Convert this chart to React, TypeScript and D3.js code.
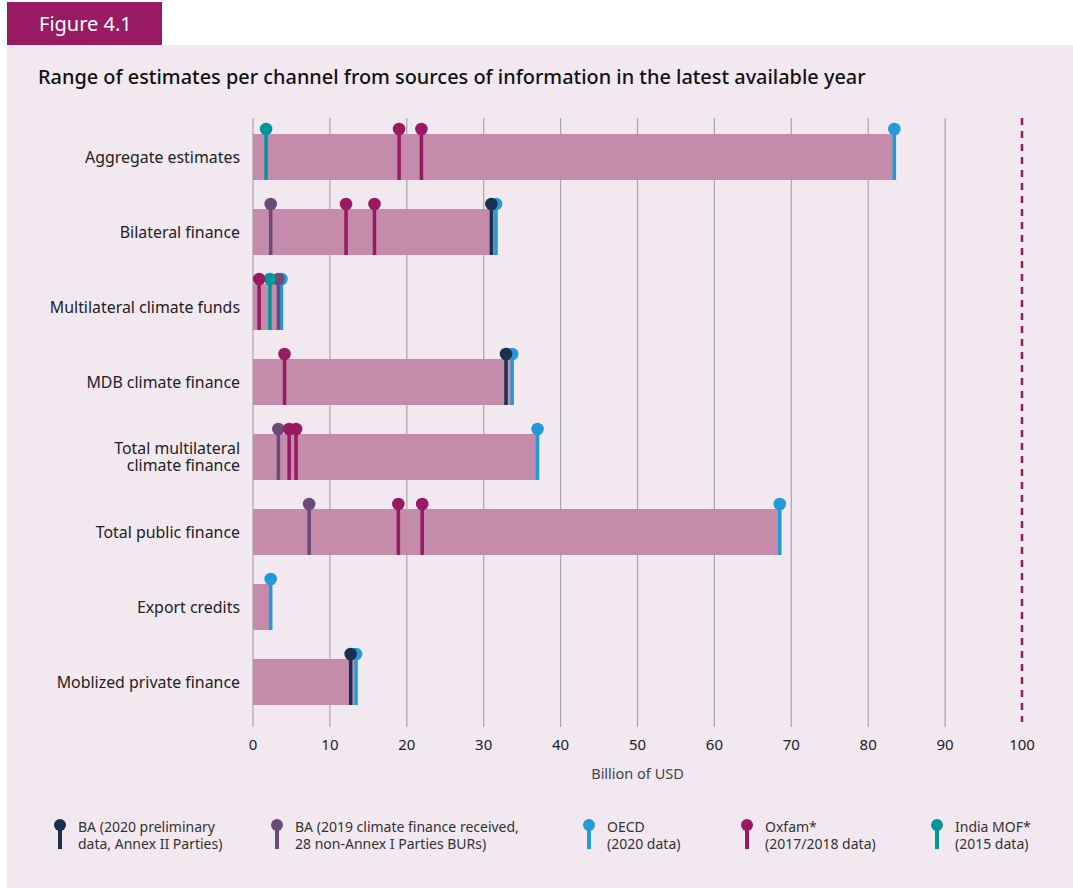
import React from "react";
import * as d3 from "d3";

const categories = [
  "Aggregate estimates",
  "Bilateral finance",
  "Multilateral climate funds",
  "MDB climate finance",
  "Total multilateral|climate finance",
  "Total public finance",
  "Export credits",
  "Moblized private finance",
];

const ba2020: (number | null)[] = [null, 31.0, null, 32.9, null, null, null, 12.7];
const ba2019: (number | null)[] = [null, 2.3, 3.3, null, 3.3, 7.3, null, null];
const oecd: (number | null)[] = [83.4, 31.6, 3.7, 33.7, 37.0, 68.5, 2.3, 13.4];
const oxfamA: (number | null)[] = [19.0, 12.1, 0.8, 4.1, 4.7, 18.9, null, null];
const oxfamB: (number | null)[] = [21.9, 15.8, null, null, 5.6, 22.0, null, null];
const india: (number | null)[] = [1.7, null, 2.2, null, null, null, null, null];

const xTicks = [0, 10, 20, 30, 40, 50, 60, 70, 80, 90, 100];

const C = {
  ba2020: "#1b2f4e",
  ba2019: "#6a4b78",
  oecd: "#2299d8",
  oxfam: "#981a63",
  india: "#00979c",
  bar: "#c48baa",
  bg: "#f2e8f0",
  tag: "#971a62",
  grid: "#a9a4a8",
};

const legendItems = [
  { color: C.ba2020, lines: ["BA (2020 preliminary", "data, Annex II Parties)"], x: 60 },
  { color: C.ba2019, lines: ["BA (2019 climate finance received,", "28 non-Annex I Parties BURs)"], x: 277 },
  { color: C.oecd, lines: ["OECD", "(2020 data)"], x: 589 },
  { color: C.oxfam, lines: ["Oxfam*", "(2017/2018 data)"], x: 747 },
  { color: C.india, lines: ["India MOF*", "(2015 data)"], x: 937 },
];

const FONT = "'Noto Sans', 'Open Sans', sans-serif";

export default function App() {
  const W = 1073;
  const H = 888;
  const x = d3.scaleLinear().domain([0, 100]).range([253, 1022]);
  const y = d3
    .scaleBand()
    .domain(categories)
    .range([119.5, 719.5])
    .paddingInner(0.387)
    .paddingOuter(0.1935);
  const bw = y.bandwidth();
  const gridTop = 118;
  const gridBottom = 727;

  const seriesOrder = [
    { vals: oecd, color: C.oecd },
    { vals: ba2019, color: C.ba2019 },
    { vals: ba2020, color: C.ba2020 },
    { vals: india, color: C.india },
    { vals: oxfamA, color: C.oxfam },
    { vals: oxfamB, color: C.oxfam },
  ];

  const maxes = categories.map((_, i) =>
    d3.max(seriesOrder.map((s) => s.vals[i]).filter((v): v is number => v != null)) ?? 0
  );

  return (
    <div style={{ position: "absolute", left: 0, top: 0 }}>
      <svg width={W} height={H} style={{ display: "block", fontFamily: FONT }}>
        <rect x={0} y={0} width={W} height={H} fill="#ffffff" />
        <rect x={7} y={45} width={W - 7} height={H - 45} fill={C.bg} />
        <rect x={7} y={2} width={155} height={43} fill={C.tag} />
        <text x={39} y={31} fill="#ffffff" fontSize={20}>
          Figure 4.1
        </text>
        <text x={38} y={84} fill="#111" fontSize={19.9} fontWeight={500}>
          Range of estimates per channel from sources of information in the latest available year
        </text>

        {/* grid */}
        {xTicks.filter((t) => t < 100).map((t) => (
          <line key={t} x1={x(t)} x2={x(t)} y1={gridTop} y2={gridBottom} stroke={C.grid} strokeWidth={1.2} />
        ))}
        <line
          x1={x(100)}
          x2={x(100)}
          y1={gridTop}
          y2={722}
          stroke={C.oxfam}
          strokeWidth={2.5}
          strokeDasharray="7,6"
        />

        {/* bars */}
        {categories.map((c, i) => (
          <rect key={c} x={x(0)} y={y(c)!} width={x(maxes[i]) - x(0)} height={bw} fill={C.bar} />
        ))}

        {/* lollipops */}
        {seriesOrder.map((s, si) =>
          categories.map((c, i) => {
            const v = s.vals[i];
            if (v == null) return null;
            const top = y(c)!;
            const cx = x(v);
            return (
              <g key={`${si}-${i}`}>
                <rect x={cx - 1.75} y={top - 5} width={3.5} height={bw + 5} fill={s.color} />
                <circle cx={cx} cy={top - 5} r={6.3} fill={s.color} />
              </g>
            );
          })
        )}

        {/* category labels */}
        {categories.map((c) => {
          const lines = c.split("|");
          const cy = y(c)! + bw / 2;
          return (
            <text key={c} x={240} textAnchor="end" fontSize={15.9} fill="#222">
              {lines.map((l, li) => (
                <tspan key={li} x={240} y={cy + 5.5 + (li - (lines.length - 1) / 2) * 17.5}>
                  {l}
                </tspan>
              ))}
            </text>
          );
        })}

        {/* ticks */}
        {xTicks.map((t) => (
          <text key={t} x={x(t)} y={750} textAnchor="middle" fontSize={15} fill="#222">
            {t}
          </text>
        ))}
        <text x={x(50)} y={779} textAnchor="middle" fontSize={14.5} fill="#444">
          Billion of USD
        </text>

        {/* legend */}
        {legendItems.map((it) => (
          <g key={it.lines[0]}>
            <rect x={it.x - 2} y={825} width={4} height={24} fill={it.color} />
            <circle cx={it.x} cy={825} r={6} fill={it.color} />
            {it.lines.map((l, li) => (
              <text key={li} x={it.x + 18} y={832 + li * 17} fontSize={14} fill="#333">
                {l}
              </text>
            ))}
          </g>
        ))}
      </svg>
    </div>
  );
}
